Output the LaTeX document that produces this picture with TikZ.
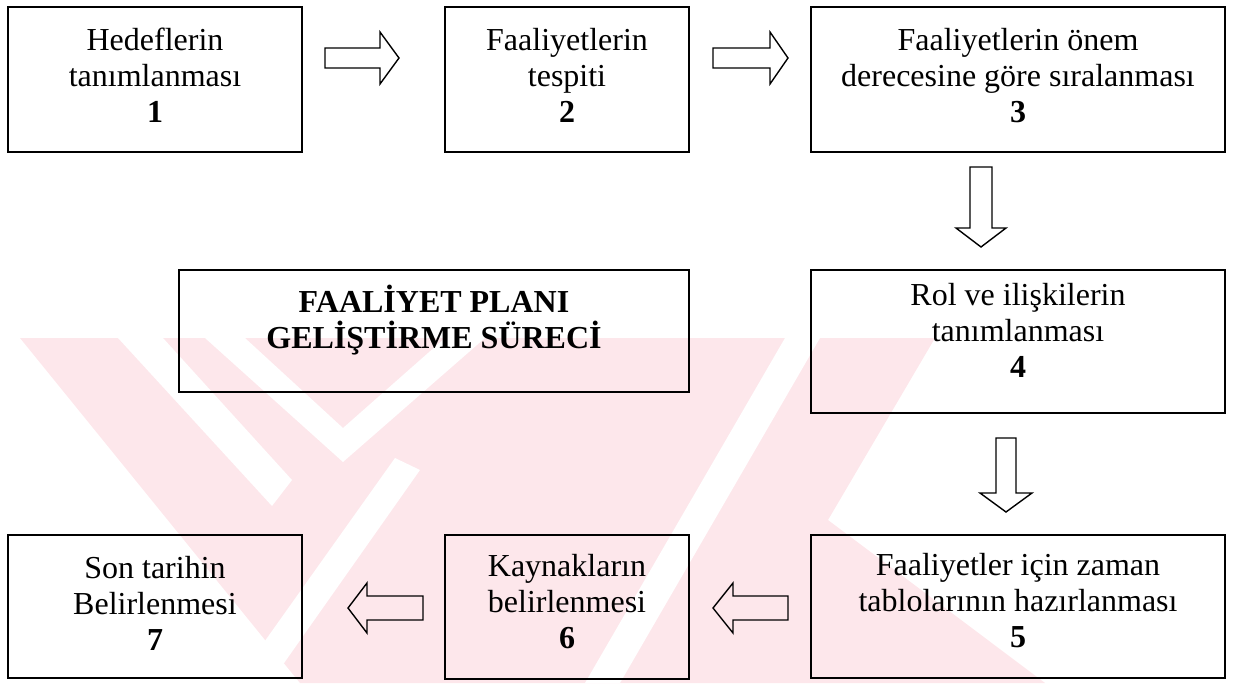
\documentclass[tikz,border=0pt]{standalone}
\usepackage{fontspec}
\setmainfont{Liberation Serif}
\usetikzlibrary{calc}
\definecolor{wm}{RGB}{253,231,235}
\begin{document}
\begin{tikzpicture}[x=1pt,y=-1pt,
  box/.style={draw=black, line width=1.6pt, inner sep=0pt},
  txt/.style={align=center, inner sep=0pt, font=\fontsize{32}{36}\selectfont},
  blockarrow/.style={draw=black, line width=1.4pt, fill=none, line join=miter}
]
\useasboundingbox (0,0) rectangle (1237,683);
% watermark
\fill[wm] (20,338) -- (935,338) -- (828,520) -- (1045,683) -- (300,683) -- cycle;
\fill[white] (118,338) -- (163,338) -- (292,480) -- (272,506) -- cycle;
\fill[white] (205,338) -- (245,338) -- (343,428) -- (445,338) -- (485,338) -- (343,462) -- cycle;
\fill[white] (785,338) -- (820,338) -- (620,683) -- (585,683) -- cycle;
\fill[white] (235,683) -- (270,683) -- (420,470) -- (395,458) -- cycle;
% boxes
\node[box, minimum width=294pt, minimum height=145pt] (b1) at (155,79.5) {};
\node[box, minimum width=244pt, minimum height=145pt] (b2) at (567,79.5) {};
\node[box, minimum width=414pt, minimum height=145pt] (b3) at (1018,79.5) {};
\node[box, minimum width=510pt, minimum height=122pt] (t) at (434,331) {};
\node[box, minimum width=414pt, minimum height=143pt] (b4) at (1018,341.5) {};
\node[box, minimum width=414pt, minimum height=143pt] (b5) at (1018,606.5) {};
\node[box, minimum width=244pt, minimum height=144pt] (b6) at (567,607) {};
\node[box, minimum width=294pt, minimum height=143pt] (b7) at (155,606.5) {};
% texts
\node[txt] (l1) at ($(b1.center)+(0,-4)$) {Hedeflerin\\tanımlanması\\\textbf{1}};
\node[txt] (l2) at ($(b2.center)+(0,-4)$) {Faaliyetlerin\\tespiti\\\textbf{2}};
\node[txt] (l3) at ($(b3.center)+(0,-4)$) {Faaliyetlerin önem\\derecesine göre sıralanması\\\textbf{3}};
\node[txt] (lt) at ($(t.center)+(0,-11)$) {\textbf{FAALİYET PLANI}\\\textbf{GELİŞTİRME SÜRECİ}};
\node[txt] (l4) at ($(b4.center)+(0,-11)$) {Rol ve ilişkilerin\\tanımlanması\\\textbf{4}};
\node[txt] (l5) at ($(b5.center)+(0,-6)$) {Faaliyetler için zaman\\tablolarının hazırlanması\\\textbf{5}};
\node[txt] (l6) at ($(b6.center)+(0,-5)$) {Kaynakların\\belirlenmesi\\\textbf{6}};
\node[txt] (l7) at ($(b7.center)+(0,-3)$) {Son tarihin\\Belirlenmesi\\\textbf{7}};
% block arrows
\draw[blockarrow] (325,48) -- (380,48) -- (380,32) -- (399,58) -- (380,84) -- (380,68) -- (325,68) -- cycle;
\draw[blockarrow] (713,48) -- (770,48) -- (770,32) -- (788,58) -- (770,84) -- (770,68) -- (713,68) -- cycle;
\draw[blockarrow] (970,167) -- (992,167) -- (992,228) -- (1006,228) -- (981,247) -- (956,228) -- (970,228) -- cycle;
\draw[blockarrow] (996,438) -- (1016,438) -- (1016,493) -- (1032,493) -- (1006,512) -- (980,493) -- (996,493) -- cycle;
\draw[blockarrow] (788,596) -- (733,596) -- (733,583) -- (713,608) -- (733,633) -- (733,620) -- (788,620) -- cycle;
\draw[blockarrow] (423,596) -- (367,596) -- (367,583) -- (348,608) -- (367,633) -- (367,620) -- (423,620) -- cycle;
\end{tikzpicture}
\end{document}
